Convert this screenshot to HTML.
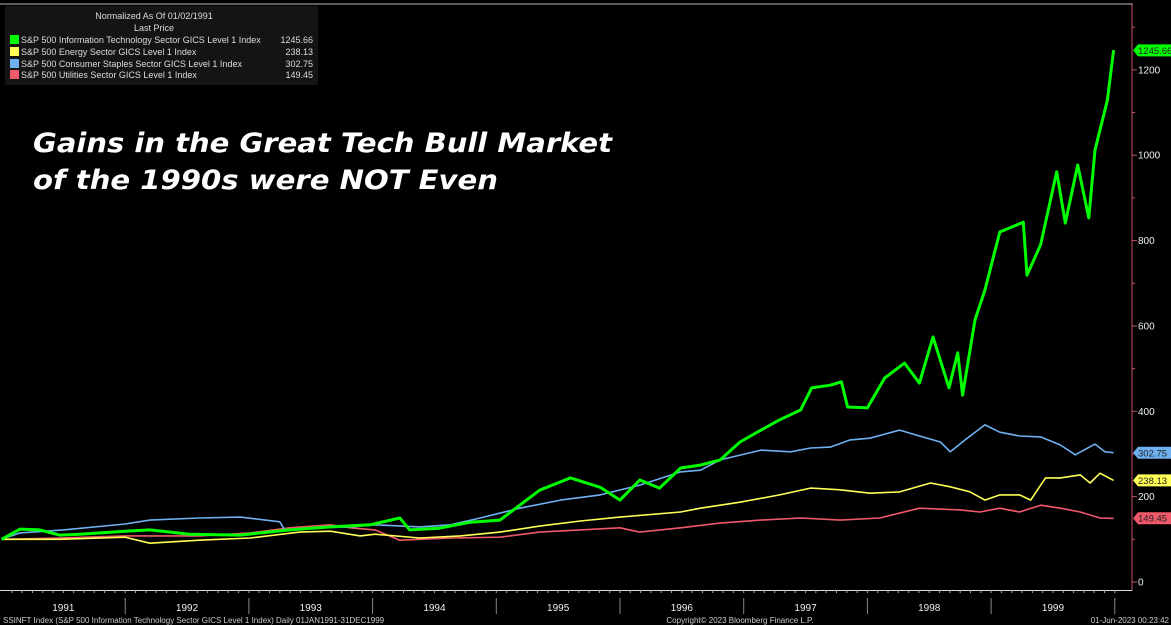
<!DOCTYPE html>
<html><head><meta charset="utf-8">
<style>
html,body{margin:0;padding:0;background:#000;}
svg{display:block;font-family:"Liberation Sans",sans-serif;}
</style></head>
<body>
<svg id="chart" width="1171" height="625" viewBox="0 0 1171 625">
<rect x="0" y="0" width="1171" height="625" fill="#000"/>
<line x1="0" y1="4" x2="1133" y2="4" stroke="#bbb" stroke-width="1"/>
<g id="plot"></g>
<g id="axes"></g>
<g>
<rect x="5" y="6" width="313" height="79" fill="#141414"/>
<text x="154" y="19" fill="#ddd" font-size="9" text-anchor="middle">Normalized As Of 01/02/1991</text>
<text x="154" y="31" fill="#ddd" font-size="9" text-anchor="middle">Last Price</text>
<g><rect x="10" y="35" width="9" height="9" fill="#00ff00"/><text x="21" y="43" fill="#ddd" font-size="9">S&amp;P 500 Information Technology Sector GICS Level 1 Index</text><text x="313" y="43" fill="#ddd" font-size="9" text-anchor="end">1245.66</text></g>
<g><rect x="10" y="47" width="9" height="9" fill="#ffff55"/><text x="21" y="55" fill="#ddd" font-size="9">S&amp;P 500 Energy Sector GICS Level 1 Index</text><text x="313" y="55" fill="#ddd" font-size="9" text-anchor="end">238.13</text></g>
<g><rect x="10" y="59" width="9" height="9" fill="#6fb0f0"/><text x="21" y="67" fill="#ddd" font-size="9">S&amp;P 500 Consumer Staples Sector GICS Level 1 Index</text><text x="313" y="67" fill="#ddd" font-size="9" text-anchor="end">302.75</text></g>
<g><rect x="10" y="70" width="9" height="9" fill="#f0596a"/><text x="21" y="78" fill="#ddd" font-size="9">S&amp;P 500 Utilities Sector GICS Level 1 Index</text><text x="313" y="78" fill="#ddd" font-size="9" text-anchor="end">149.45</text></g>
</g>
<g font-family="'DejaVu Sans',sans-serif" font-weight="bold" font-style="italic" fill="#fff" font-size="27">
<text x="33" y="152" textLength="579" lengthAdjust="spacingAndGlyphs">Gains in the Great Tech Bull Market</text>
<text x="33" y="189" textLength="465" lengthAdjust="spacingAndGlyphs">of the 1990s were NOT Even</text>
</g>
<text x="3" y="623" fill="#ccc" font-size="8">SSINFT Index (S&amp;P 500 Information Technology Sector GICS Level 1 Index)  Daily 01JAN1991-31DEC1999</text>
<text x="740" y="623" fill="#ccc" font-size="8" text-anchor="middle">Copyright© 2023 Bloomberg Finance L.P.</text>
<text x="1169" y="623" fill="#ccc" font-size="8" text-anchor="end">01-Jun-2023 00:23:42</text>
</svg>
<script>
const techDates=[1991.0,1991.15,1991.31,1991.47,1991.63,1992.0,1992.2,1992.52,1992.93,1993.33,1993.66,1993.98,1994.22,1994.3,1994.54,1994.79,1995.03,1995.35,1995.6,1995.84,1996.0,1996.16,1996.32,1996.49,1996.65,1996.81,1996.97,1997.14,1997.29,1997.46,1997.55,1997.7,1997.79,1997.84,1998.0,1998.14,1998.3,1998.42,1998.53,1998.66,1998.73,1998.77,1998.87,1998.95,1999.07,1999.26,1999.29,1999.4,1999.53,1999.6,1999.7,1999.79,1999.84,1999.94,1999.99];
const techValues=[100,124,122,110,112,119,122,112,110,122,129,134,150,122,126,140,145,215,244,222,192,239,220,267,274,286,328,356,380,403,455,461,469,410,408,478,513,466,574,455,537,438,614,684,820,843,719,790,961,841,977,853,1012,1129,1246];
const staplesDates=[1991.0,1991.15,1991.5,1992.0,1992.2,1992.6,1992.93,1993.25,1993.29,1993.57,1993.82,1994.02,1994.38,1994.63,1994.87,1995.19,1995.52,1995.84,1996.16,1996.49,1996.65,1996.81,1997.14,1997.38,1997.54,1997.7,1997.86,1998.02,1998.26,1998.42,1998.59,1998.67,1998.79,1998.95,1999.07,1999.23,1999.4,1999.56,1999.68,1999.84,1999.92,1999.99];
const staplesValues=[100,115,122,136,145,150,152,141,122,127,129,134,129,134,150,173,192,204,227,258,262,286,309,305,314,316,333,337,356,342,328,305,333,368,351,342,340,321,298,323,305,303];
const energyDates=[1991.0,1991.47,1992.0,1992.2,1992.6,1993.01,1993.41,1993.66,1993.9,1994.02,1994.38,1994.71,1995.03,1995.35,1995.68,1996.0,1996.49,1996.65,1996.97,1997.29,1997.54,1997.78,1998.02,1998.26,1998.51,1998.67,1998.83,1998.95,1999.07,1999.23,1999.32,1999.44,1999.56,1999.72,1999.8,1999.88,1999.99];
const energyValues=[100,100,105,91,98,103,117,119,108,112,103,108,117,131,143,152,164,173,187,204,220,216,208,211,232,223,211,192,204,204,192,244,244,251,232,255,238];
const utilDates=[1991.0,1991.47,1992.0,1992.6,1993.01,1993.33,1993.66,1993.82,1994.02,1994.22,1994.63,1995.03,1995.35,1995.68,1996.0,1996.16,1996.49,1996.81,1997.14,1997.46,1997.78,1998.1,1998.42,1998.75,1998.91,1999.07,1999.23,1999.4,1999.56,1999.72,1999.88,1999.99];
const utilValues=[100,103,108,108,115,127,134,127,122,98,103,105,117,122,127,117,127,138,145,150,145,150,173,169,164,173,164,180,173,164,150,149];
const yTicks=[0,200,400,600,800,1000,1200];
const yearLabels=["1991","1992","1993","1994","1995","1996","1997","1998","1999"];
const lastTech=1245.66, lastEnergy=238.13, lastStaples=302.75, lastUtil=149.45;

const NS="http://www.w3.org/2000/svg";
const X0=1.5, YW=123.7, Y0=582, YS=0.4268, AXX=1132;
function xs(t){return X0+(t-1991)*YW;}
function ys(v){return Y0-v*YS;}
function mk(tag,attrs,parent){const e=document.createElementNS(NS,tag);for(const k in attrs)e.setAttribute(k,attrs[k]);parent.appendChild(e);return e;}
const plot=document.getElementById('plot');
const axes=document.getElementById('axes');

function series(dates,vals,color,w,name){
  const d=dates.map((t,i)=>(i?'L':'M')+xs(t).toFixed(1)+','+ys(vals[i]).toFixed(1)).join(' ');
  const p=mk('path',{d:d,fill:'none',stroke:color,'stroke-width':w,'stroke-linejoin':'round'},plot);
  
  
}
series(utilDates,utilValues,'#f0596a',1.6,'utilities-line');
series(energyDates,energyValues,'#ffff55',1.6,'energy-line');
series(staplesDates,staplesValues,'#6fb0f0',1.6,'staples-line');
series(techDates,techValues,'#00ff00',3,'tech-line');

const ax=mk('line',{x1:AXX,y1:4,x2:AXX,y2:591,stroke:'#c8506a','stroke-width':1},axes);


for(let v=-100;v<=1300;v+=100){
  const y=ys(v); if(y<6||y>590)continue;
  const tk=mk('line',{x1:AXX,y1:y,x2:AXX+(v%200===0?5:3),y2:y,stroke:'#c8506a','stroke-width':1},axes);
  
  
}
yTicks.forEach(v=>{
  const t=mk('text',{x:AXX+6,y:ys(v)+3.5,fill:'#eee','font-size':10},axes);
  t.textContent=v;
  
  
});
function tag(v,color,txtColor,name){
  const y=ys(v);
  const g=mk('g',{},axes);
  
  
  mk('path',{d:`M${AXX+1},${y} L${AXX+6},${y-6} L1171,${y-6} L1171,${y+6} L${AXX+6},${y+6} Z`,fill:color},g);
  const t=mk('text',{x:AXX+6,y:y+3.5,fill:txtColor,'font-size':9.5},g);
  t.textContent=v.toFixed(2);
}
tag(lastTech,'#00ff00','#222','tech-last-value-tag');
tag(lastStaples,'#6fb0f0','#222','staples-last-value-tag');
tag(lastEnergy,'#ffff55','#222','energy-last-value-tag');
tag(lastUtil,'#f0596a','#222','utilities-last-value-tag');
const xl=mk('line',{x1:0,y1:590.5,x2:AXX,y2:590.5,stroke:'#ddd','stroke-width':1},axes);


for(let m=1;m<9*12+1;m++){
  const x=xs(1991+m/12); if(x>AXX)break;
  const tk=mk('line',{x1:x,y1:590,x2:x,y2:593,stroke:'#aaa','stroke-width':1},axes);
  
  
}
yearLabels.forEach((lab,i)=>{
  const t=mk('text',{x:xs(1991+i+0.5),y:611,fill:'#eee','font-size':10,'text-anchor':'middle'},axes);
  t.textContent=lab;
  
  
  const dv=mk('line',{x1:xs(1992+i),y1:598,x2:xs(1992+i),y2:614,stroke:'#888','stroke-width':1},axes);
  
  
});
</script>
</body></html>
